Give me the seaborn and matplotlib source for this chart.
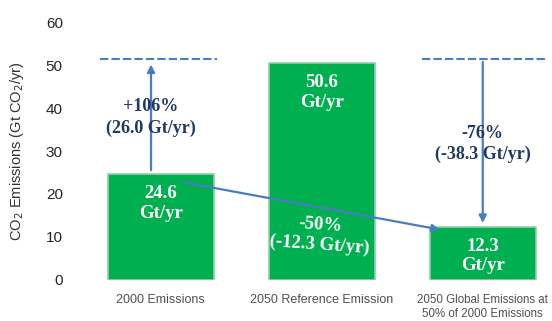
import matplotlib
matplotlib.use("Agg")
import matplotlib.pyplot as plt
import seaborn as sns
import pandas as pd

# data
categories = ["2000 Emissions", "2050 Reference Emission",
              "2050 Global Emissions at\n50% of 2000 Emissions"]
emissions = [24.6, 50.6, 12.3]
ref_level = 51.4
yticks = [0, 10, 20, 30, 40, 50, 60]

df = pd.DataFrame({"Category": categories, "Emissions": emissions})

sns.set_style("white")
plt.rcParams["font.family"] = ["Liberation Serif", "DejaVu Serif"]

fig = plt.figure(figsize=(5.52, 3.21), dpi=100)
ax = fig.add_axes([0.154, 0.128, 0.846, 0.803])

green = "#00B050"
navy = "#1F3864"
blue = "#4A7CC4"

sns.barplot(data=df, x="Category", y="Emissions", color=green, saturation=1,
            width=0.66, edgecolor="#8FD1A8", linewidth=1.2, ax=ax)

ax.set_xlim(-0.47, 2.43)
ax.set_ylim(0, 60)
ax.set_yticks(yticks)
ax.tick_params(axis="y", labelsize=11, length=2, width=2, color="#C8C8C8", pad=14)
ax.tick_params(axis="x", labelsize=9, length=0, labelcolor="#505050", pad=10)
for lab in ax.get_yticklabels() + ax.get_xticklabels():
    lab.set_family(["Liberation Sans", "DejaVu Sans"])
# last label is wide, shrink it a touch so it stays inside the figure
ax.get_xticklabels()[2].set_fontsize(8.3)
ax.set_xlabel("")
ax.set_ylabel("CO$_2$ Emissions (Gt CO$_2$/yr)", fontsize=10.5, labelpad=14,
              family=["Liberation Sans", "DejaVu Sans"], color="#303030")
for s in ax.spines.values():
    s.set_visible(False)

# dashed reference lines
ax.plot([-0.38, 0.35], [ref_level, ref_level], ls=(0, (4, 1.5)), color=blue, lw=1.5)
ax.plot([1.62, 2.39], [ref_level, ref_level], ls=(0, (4, 1.5)), color=blue, lw=1.5)

# arrows
arrow = dict(arrowstyle="-|>", color=blue, lw=1.6, mutation_scale=11)
ax.annotate("", xy=(-0.06, ref_level - 0.6), xytext=(-0.06, emissions[0] + 0.3),
            arrowprops=arrow)
ax.annotate("", xy=(2.0, emissions[2] + 0.3), xytext=(2.0, ref_level),
            arrowprops=arrow)
ax.annotate("", xy=(1.75, 11.6), xytext=(0.13, 22.8), arrowprops=arrow)

# bar labels
bar_txt = dict(ha="center", va="center", color="white", fontsize=13.5,
               fontweight="bold", linespacing=1.2)
ax.text(0, 17.8, "24.6\nGt/yr", **bar_txt)
ax.text(1, 43.6, "50.6\nGt/yr", **bar_txt)
ax.text(2, 5.6, "12.3\nGt/yr", **bar_txt)
ax.text(0.99, 10.5, "-50%\n(-12.3 Gt/yr)", rotation=-4, **bar_txt)

chg_txt = dict(ha="center", va="center", color=navy, fontsize=13,
               fontweight="bold", linespacing=1.3)
ax.text(-0.06, 37.8, "+106%\n(26.0 Gt/yr)", **chg_txt)
ax.text(2.0, 31.6, "-76%\n(-38.3 Gt/yr)", **chg_txt)

plt.savefig("out.png", dpi=100)
